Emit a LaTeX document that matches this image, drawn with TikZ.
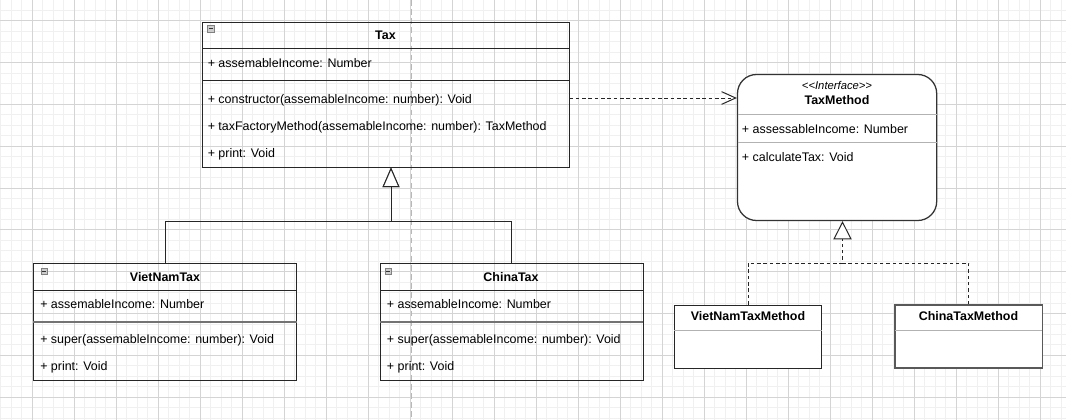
\documentclass[tikz,border=0pt]{standalone}
\usepackage{fontspec}
\setmainfont{Liberation Sans}
\usetikzlibrary{arrows.meta,fit,calc}

\begin{document}
\begin{tikzpicture}[x=0.025cm,y=-0.025cm,
    classbox/.style={draw=black!85,line width=0.7pt,inner sep=0pt},
    ifacebox/.style={draw=black!80,line width=0.9pt,fill=white,inner sep=0pt,rounded corners=0.475cm},
    implbox/.style={draw=black!85,line width=0.7pt,fill=white,inner sep=0pt},
    title/.style={font=\fontsize{8.85}{10}\selectfont\bfseries,inner sep=0pt,text height=6.3pt,text depth=0pt},
    stereo/.style={font=\fontsize{8}{9}\selectfont\itshape,inner sep=0pt,text height=5.7pt,text depth=0pt},
    member/.style={font=\fontsize{8.85}{10}\selectfont,anchor=west,inner sep=0pt,text height=6.3pt,text depth=0pt},
    sep/.style={draw=black!85,line width=0.7pt},
    greysep/.style={draw=black!55,line width=1.2pt},
    lightsep/.style={draw=black!30,line width=0.7pt},
    icon/.style={draw=black!50,fill=black!20,line width=0.5pt},
    inherit/.style={draw=black!85,line width=0.7pt,-{Triangle[length=14pt,width=12pt,fill=white]}},
    realize/.style={draw=black!85,line width=0.7pt,dash pattern=on 2.5pt off 2pt},
    depend/.style={draw=black!85,line width=0.7pt,dash pattern=on 2.5pt off 2pt,-{Straight Barb[length=10pt,width=9pt]}}]

  \fill[white] (0,0) rectangle (1066,420);
  \useasboundingbox (0,0) rectangle (1066,420);
  \foreach \x in {0.8,11.3,...,1066} \draw[black!6,line width=0.7pt] (\x,0) -- (\x,420);
  \foreach \y in {10.24,20.7,...,420} \draw[black!6,line width=0.7pt] (0,\y) -- (1066,\y);
  \foreach \x in {32.3,74.3,...,1066} \draw[black!17,line width=0.7pt] (\x,0) -- (\x,420);
  \foreach \y in {20.7,62.55,...,420} \draw[black!17,line width=0.7pt] (0,\y) -- (1066,\y);
  \draw[black!28,line width=1.2pt,dash pattern=on 4pt off 2.5pt] (411.5,0) -- (411.5,420);

  % Tax
  \node[classbox,fit={(202,22) (569,167)}] (tax) {};
  \draw[sep] (202,48) -- (569,48);
  \draw[sep] (202,80.3) -- (569,80.3);
  \draw[icon] (207,25) rectangle +(7,7);
  \draw[black!80,line width=0.6pt] (208.5,28.5) -- +(4,0);
  \node[title] (taxname) at (385.5,35) {Tax};
  \node[member] (taxattr) at (207.5,63) {+ assemableIncome: Number};
  \node[member] (taxctor) at (207.5,99) {+ constructor(assemableIncome: number): Void};
  \node[member] (taxfact) at (207.5,126) {+ taxFactoryMethod(assemableIncome: number): TaxMethod};
  \node[member] (taxprint) at (207.5,153) {+ print: Void};

  % VietNamTax
  \node[classbox,fit={(33.3,263.3) (296.7,380.3)}] (vnt) {};
  \draw[sep] (33.3,290) -- (296.7,290);
  \draw[greysep] (33.3,321.7) -- (296.7,321.7);
  \draw[icon] (41,268) rectangle +(6.5,6.5);
  \draw[black!80,line width=0.6pt] (42.3,271.2) -- +(3.9,0);
  \node[title] (vntname) at (165,277) {VietNamTax};
  \node[member] (vntattr) at (40,304) {+ assemableIncome: Number};
  \node[member] (vntsuper) at (40,339) {+ super(assemableIncome: number): Void};
  \node[member] (vntprint) at (40,366) {+ print: Void};

  % ChinaTax
  \node[classbox,fit={(380,263.3) (643.3,380.3)}] (ct) {};
  \draw[sep] (380,290) -- (643.3,290);
  \draw[greysep] (380,321.7) -- (643.3,321.7);
  \draw[icon] (385,268.3) rectangle +(6.5,6.5);
  \draw[black!80,line width=0.6pt] (386.3,271.5) -- +(3.9,0);
  \node[title] (ctname) at (511,277) {ChinaTax};
  \node[member] (ctattr) at (386.7,304) {+ assemableIncome: Number};
  \node[member] (ctsuper) at (386.7,339) {+ super(assemableIncome: number): Void};
  \node[member] (ctprint) at (386.7,366) {+ print: Void};

  % TaxMethod
  \node[ifacebox,fit={(737.5,74.5) (936.7,220.5)}] (tm) {};
  \draw[lightsep] (737.5,114.3) -- (936.7,114.3);
  \draw[lightsep] (737.5,142) -- (936.7,142);
  \node[stereo] (tmstereo) at (837,85) {<{}<Interface>{}>};
  \node[title] (tmname) at (837,100) {TaxMethod};
  \node[member] (tmattr) at (741.7,129) {+ assessableIncome: Number};
  \node[member] (tmcalc) at (741.7,157) {+ calculateTax: Void};

  % VietNamTaxMethod, ChinaTaxMethod
  \node[implbox,fit={(674.3,305) (821.7,368)}] (vntm) {};
  \draw[lightsep] (674.3,330) -- (821.7,330);
  \node[title] (vntmname) at (748,316) {VietNamTaxMethod};
  \node[implbox,draw=black!65,line width=0.9pt,fit={(895,305) (1042.3,368)}] (ctm) {};
  \draw[lightsep] (895,330) -- (1042.3,330);
  \node[title] (ctmname) at (968.5,316) {ChinaTaxMethod};

  \coordinate (depy) at (0,98);
  \draw[depend] (tax.east |- depy) -- (tm.west |- depy);

  \coordinate (taxjoin) at (391,221);
  \draw[inherit] (vnt.north) |- (taxjoin) -- (tax.south -| taxjoin);
  \draw[inherit] (ct.north) |- (taxjoin) -- (tax.south -| taxjoin);

  \coordinate (tmjoin) at (842.5,263);
  \draw[realize,-{Triangle[length=13pt,width=13pt,fill=white]}] (vntm.north) |- (tmjoin) -- (tm.south -| tmjoin);
  \draw[realize] (ctm.north) |- (tmjoin);
\end{tikzpicture}
\end{document}
